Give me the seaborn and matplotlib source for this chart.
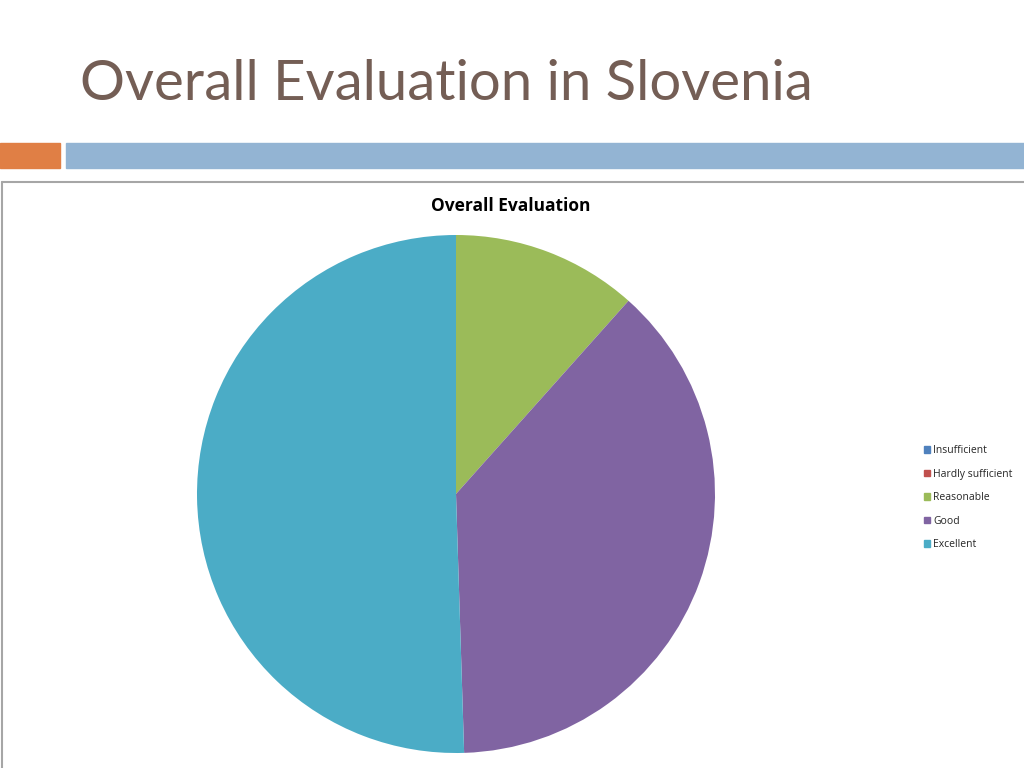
import matplotlib
matplotlib.use('Agg')
import matplotlib.pyplot as plt
import seaborn as sns
from matplotlib.patches import Rectangle
from matplotlib.lines import Line2D

# ---------------------------------------------------------------
# data
# ---------------------------------------------------------------
categories = ['Insufficient', 'Hardly sufficient', 'Reasonable', 'Good', 'Excellent']
shares = [0.0, 0.0, 11.6, 37.9, 50.5]
colors = ['#4F81BD', '#C0504D', '#9BBB59', '#8064A2', '#4BACC6']

slide_title = 'Overall Evaluation in Slovenia'
chart_title = 'Overall Evaluation'

sns.set_theme(style='white')
plt.rcParams['font.family'] = ['Lato', 'DejaVu Sans']

W, H = 1024, 768
fig = plt.figure(figsize=(W / 100, H / 100), dpi=100)
fig.patch.set_facecolor('white')

# slide decoration (orange / blue bars)
fig.patches.append(Rectangle((0, 1 - 168 / H), 60 / W, 25 / H, transform=fig.transFigure,
                             color='#E07F45', zorder=0))
fig.patches.append(Rectangle((66 / W, 1 - 168 / H), (W - 66) / W, 25 / H, transform=fig.transFigure,
                             color='#93B4D3', zorder=0))

# chart frame
fig.lines.append(Line2D([1.5 / W, 1], [1 - 181.5 / H, 1 - 181.5 / H], transform=fig.transFigure,
                        color='#A6A6A6', lw=1.5))
fig.lines.append(Line2D([1.5 / W, 1.5 / W], [0, 1 - 181.5 / H], transform=fig.transFigure,
                        color='#A6A6A6', lw=1.5))

fig.text(80 / W, 1 - 84 / H, slide_title, fontsize=40.5, color='#745E55', va='center', ha='left')
fig.text(511 / W, 1 - 206 / H, chart_title, fontsize=12.5, fontweight='bold',
         color='black', va='center', ha='center', family=['Open Sans', 'DejaVu Sans'])

# pie
cx, cy, r = 456, 494, 259
ax = fig.add_axes([(cx - r) / W, (H - cy - r) / H, 2 * r / W, 2 * r / H])
wedges, _ = ax.pie(shares, colors=colors, startangle=90, counterclock=False,
                   wedgeprops=dict(linewidth=0))
ax.set_aspect('equal')
ax.set_xlim(-1, 1)
ax.set_ylim(-1, 1)
ax.axis('off')

handles = [Rectangle((0, 0), 1, 1, color=c) for c in colors]
fig.legend(handles, categories, loc='upper left', bbox_to_anchor=(919 / W, 1 - 440 / H),
           frameon=False, handlelength=0.6, handleheight=0.6,
           handletextpad=0.25, labelspacing=1.2, borderpad=0,
           prop={'family': ['Open Sans', 'DejaVu Sans'], 'size': 7.5})

fig.savefig('out.png', dpi=100)
